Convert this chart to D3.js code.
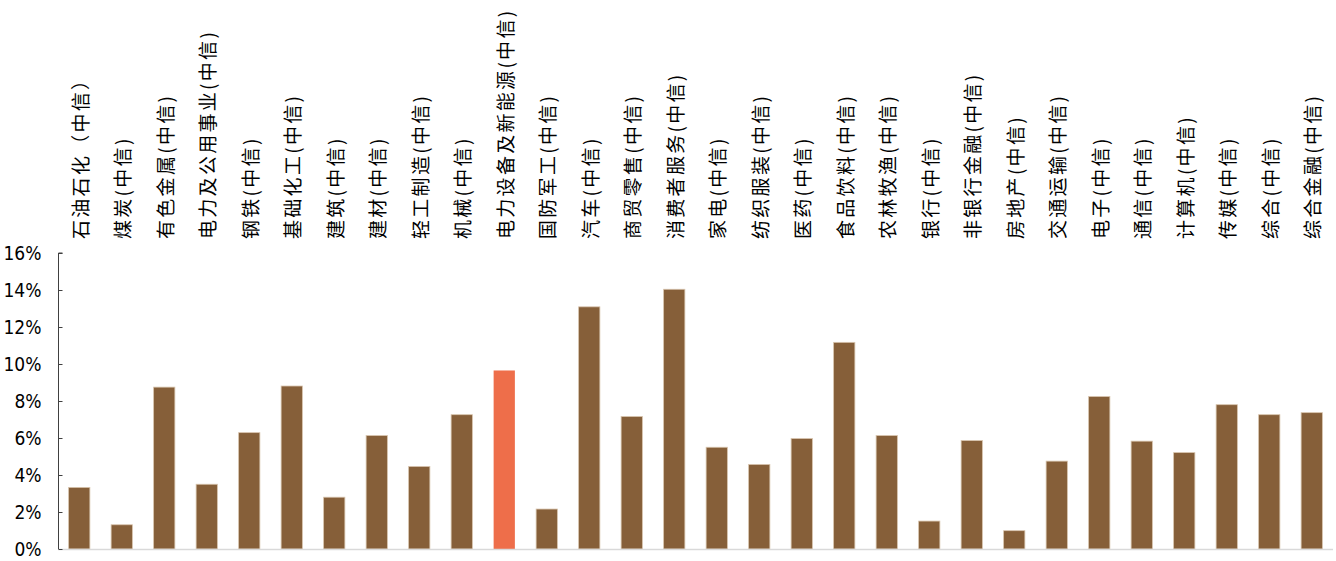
<!DOCTYPE html>
<html><head><meta charset="utf-8">
<script src="https://cdn.jsdelivr.net/npm/d3@7"></script>
<style>html,body{margin:0;padding:0;background:#fff;}svg{display:block;}</style>
</head><body>
<svg id="chart" width="1336" height="561"></svg>
<script>
const categories = ["石油石化（中信）","煤炭(中信)","有色金属(中信)","电力及公用事业(中信)","钢铁(中信)","基础化工(中信)","建筑(中信)","建材(中信)","轻工制造(中信)","机械(中信)","电力设备及新能源(中信)","国防军工(中信)","汽车(中信)","商贸零售(中信)","消费者服务(中信)","家电(中信)","纺织服装(中信)","医药(中信)","食品饮料(中信)","农林牧渔(中信)","银行(中信)","非银行金融(中信)","房地产(中信)","交通运输(中信)","电子(中信)","通信(中信)","计算机(中信)","传媒(中信)","综合(中信)","综合金融(中信)"];
const values = [0.0333,0.0131,0.0875,0.0350,0.0629,0.0881,0.0280,0.0613,0.0446,0.0726,0.0965,0.0216,0.1309,0.0716,0.1404,0.0550,0.0457,0.0597,0.1117,0.0613,0.0151,0.0586,0.0099,0.0475,0.0824,0.0583,0.0521,0.0780,0.0726,0.0737];
const highlight = ["电力设备及新能源(中信)"];
const yTicks = [0,0.02,0.04,0.06,0.08,0.10,0.12,0.14,0.16];

const svg = d3.select("#chart");
const x = d3.scaleBand().domain(categories).range([58,1333]).paddingInner(0.5).paddingOuter(0.25);
const y = d3.scaleLinear().domain([0,0.16]).range([549,253]);

// bars
svg.append("g").selectAll("rect").data(categories).join("rect")
  .attr("x", d => x(d))
  .attr("y", (d,i) => y(values[i]))
  .attr("width", x.bandwidth())
  .attr("height", (d,i) => y(0) - y(values[i]))
  .attr("fill", d => highlight.includes(d) ? "#EE6E4A" : "#865F39")
  .attr("stroke", d => highlight.includes(d) ? "none" : "#d8c4ad")
  .attr("stroke-width", 0.8);

// baseline
svg.append("line").attr("x1",58).attr("x2",1333).attr("y1",y(0)+0.5).attr("y2",y(0)+0.5)
  .attr("stroke","#d9d9d9").attr("stroke-width",1.6);

// y axis
const yAxis = d3.axisRight(y).tickValues(yTicks).tickSize(4).tickFormat(d3.format(".0%"));
const ga = svg.append("g").attr("transform","translate(58.5,0)").call(yAxis);
ga.select(".domain").attr("stroke","#404040").attr("d", `M4,${y(0.16)}H0V${y(0)}`);
ga.selectAll(".tick line").attr("stroke","#404040");
ga.selectAll(".tick text").attr("x",-17).attr("text-anchor","end")
  .attr("font-family","'Liberation Sans Narrow','DejaVu Sans Condensed',Arial,sans-serif")
  .attr("font-size",19).attr("fill","#000").attr("dy","0.35em");

// category labels (vertical, above plot)
svg.append("g").selectAll("text").data(categories).join("text")
  .attr("transform", d => `translate(${x(d)+x.bandwidth()/2},239) rotate(-90)`)
  .attr("text-anchor","start")
  .attr("dominant-baseline","central")
  .attr("font-family","'Noto Sans CJK SC','Noto Sans',sans-serif")
  .attr("font-size",19)
  .attr("letter-spacing","2.3px")
  .attr("fill","#000")
  .text(d => d);
</script>
</body></html>
